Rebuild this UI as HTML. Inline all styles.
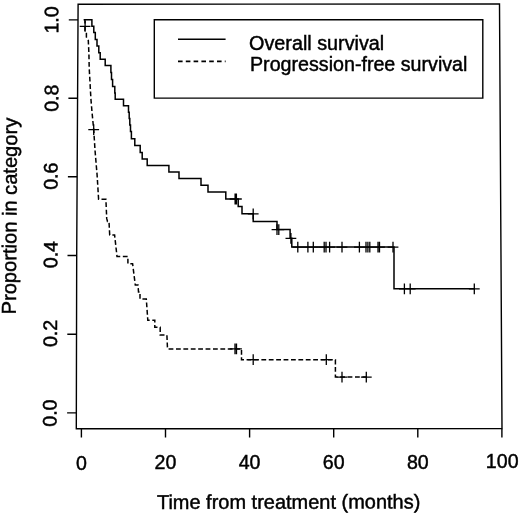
<!DOCTYPE html>
<html><head><meta charset="utf-8"><title>Survival</title>
<style>
html,body{margin:0;padding:0;background:#fff;}
svg{display:block;}
text{font-family:"Liberation Sans",sans-serif;font-size:19.6px;fill:#000;stroke:#000;stroke-width:0.45px;}
</style></head><body>
<svg width="520" height="516" viewBox="0 0 520 516">
<rect width="520" height="516" fill="#fff"/>
<g fill="none" stroke="#000" stroke-width="1.4" stroke-linejoin="miter">
<path d="M78.1 4.2L499.5 4L502 428.6L76.3 428.8L76.7 255Z"/>
<path d="M68.8 19.9H78.0M68.4 98.2H77.6M67.9 176.8H77.1M67.5 255.5H76.7M67.3 334.2H76.5M67.1 412.9H76.3M81.4 428.7V437.6M165.5 428.7V437.6M249.6 428.7V437.6M333.7 428.7V437.6M417.8 428.7V437.6M501.9 428.7V437.6"/>
<path d="M154.3 19.8H482.8V98.1H154.3Z"/>
<path d="M178 39.3H225.6" stroke-width="1.6"/>
<path d="M178 61.4H225.6" stroke-width="1.6" stroke-dasharray="4.6 3.2"/>
<path d="M83.8 19.8 H91.9 V26.3 H93.8 V32.5 H95.3 V39.4 H97.0 V46.1 H98.8 V52.7 H100.2 V59.2 H105.2 V65.5 H110.9 V72.5 H111.5 V79.4 H112.6 V86.4 H114.8 V93.0 H115.2 V99.3 H123.5 V105.8 H128.5 V112.2 H129.2 V118.6 H129.8 V125.0 H130.5 V131.5 H131.4 V138.8 H134.8 V145.4 H140.2 V152.5 H142.2 V158.9 H147.2 V165.6 H168.9 V172.1 H179.0 V178.5 H201.0 V185.3 H208.0 V191.9 H225.8 V199.0 H238.2 V206.5 H242.0 V213.8 H253.2 V221.5 H277.0 V229.6 H290.1 V238.3 H291.8 V247.1 H394.0 V288.8 H474.3" stroke-width="1.5"/>
<path d="M83.8 19.8 L85.0 19.8 L85.0 30.5 L86.4 32.0 L86.4 37.0 L88.3 40.5 L88.5 45.0 L88.9 53.0 L89.2 68.0 L90.0 82.0 L90.4 90.0 L91.0 100.0 L92.0 112.0 L93.7 129.7 L94.0 134.0 L95.0 150.0 L96.5 168.0 L97.1 175.0 L98.6 199.3 L105.9 199.3 L106.7 218.4 L107.5 221.5 L109.0 221.5 L109.7 235.0 L114.6 235.0 L117.0 256.4 L127.9 256.4 L127.9 263.7 L132.6 263.7 L135.3 285.0 L138.0 285.0 L138.5 291.9 L140.0 291.9 L140.0 299.0 L146.3 299.0 L147.8 320.2 L154.8 320.2 L154.8 327.2 L160.2 327.2 L160.2 335.0 L166.9 335.0 L167.5 348.9 L241.5 348.9 L241.5 359.7 L335.4 359.7 L335.4 377.1 L366.3 377.1" stroke-width="1.5" stroke-dasharray="4.8 2.6"/>
<path d="M229.7 199.0h10.8M235.1 193.6v10.8M231.0 199.0h10.8M236.4 193.6v10.8M247.8 213.8h10.8M253.2 208.4v10.8M271.6 229.6h10.8M277.0 224.2v10.8M273.4 229.6h10.8M278.8 224.2v10.8M285.5 238.3h10.8M290.9 232.9v10.8M292.4 247.1h10.8M297.8 241.7v10.8M302.5 247.1h10.8M307.9 241.7v10.8M307.9 247.1h10.8M313.3 241.7v10.8M318.8 247.1h10.8M324.2 241.7v10.8M320.6 247.1h10.8M326.0 241.7v10.8M324.2 247.1h10.8M329.6 241.7v10.8M336.6 247.1h10.8M342.0 241.7v10.8M354.0 247.1h10.8M359.4 241.7v10.8M360.6 247.1h10.8M366.0 241.7v10.8M362.5 247.1h10.8M367.9 241.7v10.8M364.4 247.1h10.8M369.8 241.7v10.8M372.6 247.1h10.8M378.0 241.7v10.8M374.1 247.1h10.8M379.5 241.7v10.8M387.6 247.1h10.8M393.0 241.7v10.8M399.0 288.8h10.8M404.4 283.4v10.8M404.8 288.8h10.8M410.2 283.4v10.8M468.9 288.8h10.8M474.3 283.4v10.8M79.7 26.3h10.8M85.1 20.9v10.8M88.3 129.7h10.8M93.7 124.3v10.8M229.6 348.9h10.8M235.0 343.5v10.8M231.1 348.9h10.8M236.5 343.5v10.8M247.8 359.7h10.8M253.2 354.3v10.8M320.9 359.7h10.8M326.3 354.3v10.8M336.6 377.1h10.8M342.0 371.7v10.8M360.9 377.1h10.8M366.3 371.7v10.8" stroke-width="1.3"/>
</g>
<text transform="translate(58.3 19.9) rotate(-89.7)" text-anchor="middle">1.0</text>
<text transform="translate(58.2 98.2) rotate(-89.7)" text-anchor="middle">0.8</text>
<text transform="translate(57.6 176.2) rotate(-89.7)" text-anchor="middle">0.6</text>
<text transform="translate(57.4 254.6) rotate(-89.7)" text-anchor="middle">0.4</text>
<text transform="translate(57.0 333.5) rotate(-89.7)" text-anchor="middle">0.2</text>
<text transform="translate(56.6 413.1) rotate(-89.7)" text-anchor="middle">0.0</text>
<text x="81.4" y="469.5" text-anchor="middle">0</text>
<text x="165.5" y="469.0" text-anchor="middle">20</text>
<text x="249.6" y="468.9" text-anchor="middle">40</text>
<text x="333.7" y="468.8" text-anchor="middle">60</text>
<text x="417.8" y="468.6" text-anchor="middle">80</text>
<text x="502.2" y="467.9" text-anchor="middle">100</text>

<text x="249.1" y="49.6" style="font-size:19.78px">Overall survival</text>
<text x="250" y="71.2" style="font-size:19.66px">Progression-free survival</text>
<text transform="translate(288.6 508.7) rotate(-0.1)" text-anchor="middle" style="font-size:19.98px">Time from treatment (months)</text>
<text transform="translate(16.5 216.1) rotate(-89.58)" text-anchor="middle" style="font-size:20.1px">Proportion in category</text>
</svg>
</body></html>
